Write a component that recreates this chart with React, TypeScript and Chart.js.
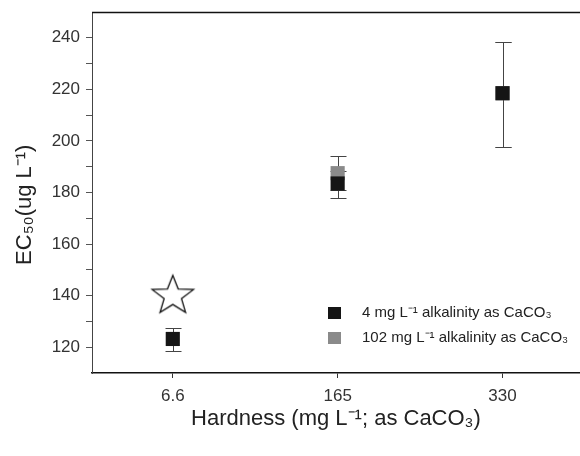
import React, { useEffect, useRef } from "react";
import { Chart, registerables } from "chart.js";

Chart.register(...registerables);

const categories = ["6.6", "165", "330"];
const lowAlkLabel = "4 mg L\u207B\u00B9 alkalinity as CaCO\u2083";
const highAlkLabel = "102 mg L\u207B\u00B9 alkalinity as CaCO\u2083";
const lowAlkValues: (number | null)[] = [123.2, 183.5, 218.5];
const lowAlkErrLow: (number | null)[] = [118.6, 177.7, 197.5];
const lowAlkErrHigh: (number | null)[] = [127.5, 188.5, 238.5];
const highAlkValues: (number | null)[] = [null, 187.5, 218.5];
const highAlkErrLow: (number | null)[] = [null, 181.0, 197.5];
const highAlkErrHigh: (number | null)[] = [null, 194.3, 238.5];
const starPoint = { x: 0, y: 140.5 };
const yTicks = [120, 130, 140, 150, 160, 170, 180, 190, 200, 210, 220, 230, 240];
const xTicks = [0, 1, 2];

const FONT = "'Liberation Sans', Arial, Helvetica, sans-serif";

function makeStar(): HTMLCanvasElement {
  const c = document.createElement("canvas");
  c.width = 48;
  c.height = 44;
  const ctx = c.getContext("2d")!;
  const cx = 24, cy = 23.5, R = 20.5, r = 8.6;
  ctx.beginPath();
  for (let i = 0; i < 10; i++) {
    const ang = -Math.PI / 2 + (i * Math.PI) / 5;
    const rad = i % 2 === 0 ? R : r;
    const px = cx + rad * Math.cos(ang) * 1.06;
    const py = cy + rad * Math.sin(ang);
    if (i === 0) ctx.moveTo(px, py);
    else ctx.lineTo(px, py);
  }
  ctx.closePath();
  ctx.fillStyle = "#fff";
  ctx.fill();
  ctx.strokeStyle = "#111";
  ctx.lineWidth = 1.3;
  ctx.stroke();
  return c;
}

const errorBarPlugin = {
  id: "errorBars",
  beforeDatasetsDraw(chart: any) {
    const { ctx } = chart;
    const xs = chart.scales.x;
    const ys = chart.scales.y;
    const sets = [
      { v: lowAlkValues, lo: lowAlkErrLow, hi: lowAlkErrHigh },
      { v: highAlkValues, lo: highAlkErrLow, hi: highAlkErrHigh },
    ];
    ctx.save();
    ctx.strokeStyle = "#444";
    ctx.lineWidth = 1;
    sets.forEach((s) => {
      s.v.forEach((val, i) => {
        if (val == null || s.lo[i] == null || s.hi[i] == null) return;
        const x = Math.round(xs.getPixelForValue(i)) + 0.5;
        const yl = Math.round(ys.getPixelForValue(s.lo[i] as number)) + 0.5;
        const yh = Math.round(ys.getPixelForValue(s.hi[i] as number)) + 0.5;
        ctx.beginPath();
        ctx.moveTo(x, yl);
        ctx.lineTo(x, yh);
        ctx.moveTo(x - 8, yl);
        ctx.lineTo(x + 8, yl);
        ctx.moveTo(x - 8, yh);
        ctx.lineTo(x + 8, yh);
        ctx.stroke();
      });
    });
    ctx.restore();
  },
  afterDraw(chart: any) {
    const { ctx, chartArea } = chart;
    ctx.save();
    // top border
    ctx.strokeStyle = "#111";
    ctx.lineWidth = 1.5;
    ctx.beginPath();
    ctx.moveTo(chartArea.left, chartArea.top + 0.5);
    ctx.lineTo(chartArea.right, chartArea.top + 0.5);
    ctx.stroke();
    // legend
    const lx = chartArea.left + 236;
    const rows = [
      { label: lowAlkLabel, color: "#151515", y: chartArea.top + 301 },
      { label: highAlkLabel, color: "#8a8a8a", y: chartArea.top + 326 },
    ];
    ctx.font = `15px ${FONT}`;
    ctx.textBaseline = "middle";
    rows.forEach((r) => {
      ctx.fillStyle = r.color;
      ctx.fillRect(lx, r.y - 6, 13, 12);
      ctx.fillStyle = "#222";
      ctx.fillText(r.label, lx + 34, r.y);
    });
    ctx.restore();
  },
};

export default function App() {
  const ref = useRef<HTMLCanvasElement | null>(null);
  useEffect(() => {
    if (!ref.current) return;
    const star = makeStar();
    const chart = new Chart(ref.current, {
      type: "scatter",
      data: {
        datasets: [
          {
            label: "star",
            data: [starPoint],
            pointStyle: star as any,
            pointRadius: 20,
          },
          {
            label: lowAlkLabel,
            data: lowAlkValues.map((v, i) => ({ x: i, y: v })) as any,
            pointStyle: "rect",
            pointRadius: 10,
            backgroundColor: "#151515",
            borderColor: "#151515",
            borderWidth: 0,
          },
          {
            label: highAlkLabel,
            data: highAlkValues.map((v, i) => ({ x: i, y: v })) as any,
            pointStyle: "rect",
            pointRadius: 10,
            backgroundColor: "#8a8a8a",
            borderColor: "#6a6a6a",
            borderWidth: 0,
          },
        ],
      },
      options: {
        animation: false,
        responsive: false,
        layout: { autoPadding: false, padding: { top: 12, right: 0, left: 0, bottom: 0 } },
        plugins: { legend: { display: false }, tooltip: { enabled: false } },
        scales: {
          x: {
            type: "linear",
            min: -0.49,
            max: 2.47,
            afterBuildTicks: (scale: any) => {
              scale.ticks = xTicks.map((v) => ({ value: v }));
            },
            afterFit: (scale: any) => {
              scale.height = 83;
              scale.paddingLeft = 0;
              scale.paddingRight = 0;
            },
            ticks: {
              callback: (v: any) => categories[v as number] ?? "",
              font: { family: FONT, size: 17 },
              color: "#333",
              padding: 8,
              maxRotation: 0,
            },
            grid: { drawOnChartArea: false, tickLength: 5, color: "#333" },
            border: { display: true, color: "#111", width: 1.5 },
            title: {
              display: true,
              text: "Hardness (mg L\u207B\u00B9; as CaCO\u2083)",
              font: { family: FONT, size: 22 },
              color: "#222",
              padding: { top: 12, bottom: 24 },
            },
          },
          y: {
            type: "linear",
            min: 110,
            max: 250,
            afterBuildTicks: (scale: any) => {
              scale.ticks = yTicks.map((v) => ({ value: v }));
            },
            afterFit: (scale: any) => {
              scale.width = 92;
              scale.paddingTop = 0;
              scale.paddingBottom = 0;
            },
            ticks: {
              callback: (v: any) => ((v as number) % 20 === 0 ? String(v) : ""),
              font: { family: FONT, size: 17 },
              color: "#333",
              padding: 6,
            },
            grid: { drawOnChartArea: false, tickLength: 6, color: "#555" },
            border: { display: true, color: "#444", width: 1 },
            title: {
              display: true,
              text: "EC\u2085\u2080(ug L\u207B\u00B9)    ",
              font: { family: FONT, size: 22 },
              color: "#222",
              padding: { top: 12, bottom: 6 },
            },
          },
        },
      },
      plugins: [errorBarPlugin],
    });
    return () => chart.destroy();
  }, []);
  return (
    <div style={{ position: "fixed", left: 0, top: 0, width: 580, height: 456, background: "#fff" }}>
      <canvas ref={ref} width={580} height={456} style={{ width: 580, height: 456, display: "block" }} />
    </div>
  );
}
